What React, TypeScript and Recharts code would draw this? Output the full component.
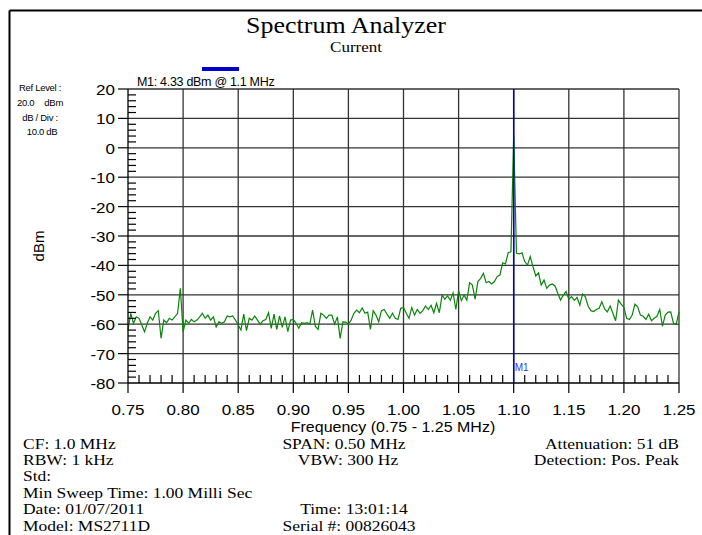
import React from 'react';
import { LineChart, Line, XAxis, YAxis, ReferenceLine } from 'recharts';

// sweep: 201 points from 0.75 to 1.25 MHz
const sweepStart = 0.75;
const sweepStep = 0.0025;

const traceDbm = [
  -62, -56.3, -59.7, -57.5, -58, -60.3, -62.6, -59.7, -57.5, -58.6,
  -56.3, -55.4, -64.8, -58.6, -59.5, -58, -58.6, -57.5, -56.3, -47.8,
  -62.6, -58.6, -59.7, -58.4, -59.2, -58.6, -57.5, -56.3, -58, -56.9,
  -58.6, -57.5, -60.9, -59.2, -59.7, -59.2, -57.2, -57.5, -57.2, -58.6,
  -60.3, -62, -56.6, -62.2, -58, -58.6, -57.2, -58.6, -60, -58.8,
  -58.4, -56.1, -61.4, -56.6, -61.8, -57.2, -61.1, -57.5, -62.5, -58.6,
  -58.4, -59.7, -61.4, -59.5, -59.7, -59.5, -60, -55.2, -60.7, -61.8,
  -56.3, -56.9, -58, -56.9, -56.9, -60, -57.5, -64.8, -59.2, -59.3,
  -60, -58.6, -56.3, -55.2, -56.1, -54.5, -56.3, -55.9, -61.8, -55.4,
  -56.9, -59.2, -55.4, -55, -56.6, -58, -56.3, -58, -58.4, -54.6,
  -54.3, -56.3, -58, -54.3, -56.9, -55, -56.3, -55.4, -53.8, -55,
  -53.6, -56.1, -52.9, -56.1, -50.1, -51.5, -50.4, -51.8, -49.3, -55,
  -48.6, -52, -50.1, -51.8, -45.9, -46.7, -51.5, -45.5, -44.4, -42.7,
  -45.9, -45.5, -46.3, -45.5, -43.8, -43.3, -39.1, -39.5, -35.7, -35.4,
  4.33, -35.9, -36.1, -35.7, -38.7, -39.9, -37, -40.4, -43.6, -42.5,
  -46.7, -45, -47.8, -46.7, -46.3, -47, -49.5, -51.8, -50.1, -48.9,
  -51.5, -50.6, -51.9, -50.9, -53.5, -49.7, -50.7, -53.8, -55.4, -55.7,
  -55, -54.6, -52.4, -54.8, -55.8, -53.8, -56.3, -58.8, -51.8, -53.2,
  -54.3, -58, -58.4, -56.9, -53.2, -54.1, -56.9, -57.3, -58.4, -56.6,
  -58.8, -58, -57.3, -55, -60.7, -56.9, -55.9, -55.8, -59.7, -60,
  -55.8,
];

const freqMajorTicks = [0.75, 0.8, 0.85, 0.9, 0.95, 1.0, 1.05, 1.1, 1.15, 1.2, 1.25];
const dbmMajorTicks = [-80, -70, -60, -50, -40, -30, -20, -10, 0, 10, 20];
const markerFreq = 1.1;

const data = traceDbm.map((v, i) => ({ f: +(sweepStart + i * sweepStep).toFixed(4), dbm: v }));

// 4 minor divisions between each pair of major ticks
const withMinors = (majors: number[]) => {
  const out: number[] = [];
  majors.forEach((m, i) => {
    out.push(m);
    if (i < majors.length - 1) {
      const step = (majors[i + 1] - m) / 5;
      for (let k = 1; k < 5; k++) out.push(+(m + step * k).toFixed(4));
    }
  });
  return out;
};
const freqTicks = withMinors(freqMajorTicks);
const dbmTicks = withMinors(dbmMajorTicks);

const isMajor = (list: number[], v: number) => list.some((t) => Math.abs(t - v) < 1e-6);

const SANS = '"Liberation Sans", Arial, sans-serif';
const SERIF = '"Liberation Serif", "Times New Roman", serif';

// text squashed vertically, the instrument printout looks like that
const Squash = ({ x, y, sy = 0.8, children, ...rest }: any) => (
  <text transform={`translate(${x} ${y}) scale(1 ${sy})`} {...rest}>
    {children}
  </text>
);

const FreqTick = (props: any) => {
  const { x, y, payload } = props;
  const v = payload.value;
  if (!isMajor(freqMajorTicks, v)) {
    return <line x1={x} y1={y} x2={x} y2={y - 8} stroke="#000" strokeWidth={1.2} />;
  }
  return (
    <g>
      <line x1={x} y1={y} x2={x} y2={y + 10} stroke="#000" strokeWidth={1.2} />
      <Squash x={x} y={y + 32} sy={0.9} textAnchor="middle" fontSize={17} fontFamily={SANS} fill="#000">
        {v.toFixed(2)}
      </Squash>
    </g>
  );
};

const DbmTick = (props: any) => {
  const { x, y, payload } = props;
  const v = payload.value;
  if (!isMajor(dbmMajorTicks, v)) {
    return <line x1={x} y1={y} x2={x + 8} y2={y} stroke="#000" strokeWidth={1.2} />;
  }
  return (
    <g>
      <line x1={x - 10} y1={y} x2={x} y2={y} stroke="#000" strokeWidth={1.2} />
      <Squash x={x - 13} y={y + 6} sy={0.9} textAnchor="end" fontSize={17} fontFamily={SANS} fill="#000">
        {v}
      </Squash>
    </g>
  );
};

const MarkerLabel = (props: any) => {
  const { viewBox } = props;
  return (
    <text x={viewBox.x + 1} y={viewBox.y + viewBox.height - 12} fontSize={10} fontFamily={SANS} fill="#3333ff">
      M1
    </text>
  );
};

const App = () => {
  return (
    <div style={{ position: 'absolute', left: 0, top: 0, width: 702, height: 535, background: '#fff' }}>
      <LineChart width={702} height={535} data={data} margin={{ top: 89, right: 23, bottom: 0, left: 0 }}>
        <XAxis
          dataKey="f"
          type="number"
          domain={[0.75, 1.25]}
          ticks={freqTicks}
          interval={0}
          tickSize={0}
          tickMargin={0}
          height={152}
          tick={<FreqTick />}
          axisLine={{ stroke: '#000', strokeWidth: 1.3 }}
        />
        <YAxis
          type="number"
          domain={[-80, 20]}
          ticks={dbmTicks}
          interval={0}
          tickSize={0}
          tickMargin={0}
          width={128}
          tick={<DbmTick />}
          axisLine={{ stroke: '#000', strokeWidth: 1.3 }}
        />
        {freqMajorTicks.slice(1).map((t) => (
          <ReferenceLine key={'gx' + t} x={t} stroke="#333" strokeWidth={1.3} />
        ))}
        {dbmMajorTicks.slice(1).map((t) => (
          <ReferenceLine key={'gy' + t} y={t} stroke="#333" strokeWidth={1.3} />
        ))}
        <Line
          type="linear"
          dataKey="dbm"
          stroke="#0a850a"
          strokeWidth={1.2}
          dot={false}
          isAnimationActive={false}
        />
        <ReferenceLine x={markerFreq} stroke="#0000cc" strokeWidth={1.5} label={<MarkerLabel />} />
      </LineChart>

      <svg
        width={702}
        height={535}
        style={{ position: 'absolute', left: 0, top: 0, pointerEvents: 'none' }}
      >
        <line x1={9.5} y1={10.5} x2={702} y2={10.5} stroke="#000" strokeWidth={2} />
        <line x1={9.5} y1={10.5} x2={9.5} y2={535} stroke="#000" strokeWidth={2} />

        <Squash x={346} y={33} sy={0.88} textAnchor="middle" fontSize={26} fontFamily={SERIF} fill="#000">
          Spectrum Analyzer
        </Squash>
        <Squash x={356} y={52} sy={0.8} textAnchor="middle" fontSize={17} fontFamily={SERIF} fill="#000">
          Current
        </Squash>

        <rect x={202} y={67} width={37} height={4} fill="#0000cc" />
        <text x={137} y={86} fontSize={12.5} fontFamily={SANS} fill="#000" letterSpacing={-0.3}>
          M1: 4.33 dBm @ 1.1 MHz
        </text>

        <g fontSize={9.5} fontFamily={SANS} fill="#000" letterSpacing={-0.3}>
          <text x={40} y={91} textAnchor="middle">Ref Level :</text>
          <text x={17} y={106}>20.0</text>
          <text x={63} y={106} textAnchor="end">dBm</text>
          <text x={40} y={121} textAnchor="middle">dB / Div :</text>
          <text x={42} y={135} textAnchor="middle">10.0 dB</text>
        </g>

        <text
          x={38}
          y={246}
          textAnchor="middle"
          dominantBaseline="central"
          fontSize={15}
          fontFamily={SANS}
          fill="#000"
          transform="rotate(-90 38 246)"
        >
          dBm
        </text>

        <Squash x={393} y={432} sy={0.9} textAnchor="middle" fontSize={16} fontFamily={SANS} fill="#000">
          Frequency (0.75 - 1.25 MHz)
        </Squash>

        <g fontSize={17.5} fontFamily={SERIF} fill="#000">
          <Squash x={23} y={449}>CF: 1.0 MHz</Squash>
          <Squash x={344} y={449} textAnchor="middle">SPAN: 0.50 MHz</Squash>
          <Squash x={679} y={449} textAnchor="end">Attenuation: 51 dB</Squash>
          <Squash x={23} y={465}>RBW: 1 kHz</Squash>
          <Squash x={348} y={465} textAnchor="middle">VBW: 300 Hz</Squash>
          <Squash x={679} y={465} textAnchor="end">Detection: Pos. Peak</Squash>
          <Squash x={23} y={481}>Std:</Squash>
          <Squash x={23} y={498}>Min Sweep Time: 1.00 Milli Sec</Squash>
          <Squash x={23} y={514}>Date: 01/07/2011</Squash>
          <Squash x={354} y={514} textAnchor="middle">Time: 13:01:14</Squash>
          <Squash x={23} y={531}>Model: MS2711D</Squash>
          <Squash x={349} y={531} textAnchor="middle">Serial #: 00826043</Squash>
        </g>
      </svg>
    </div>
  );
};

export default App;
